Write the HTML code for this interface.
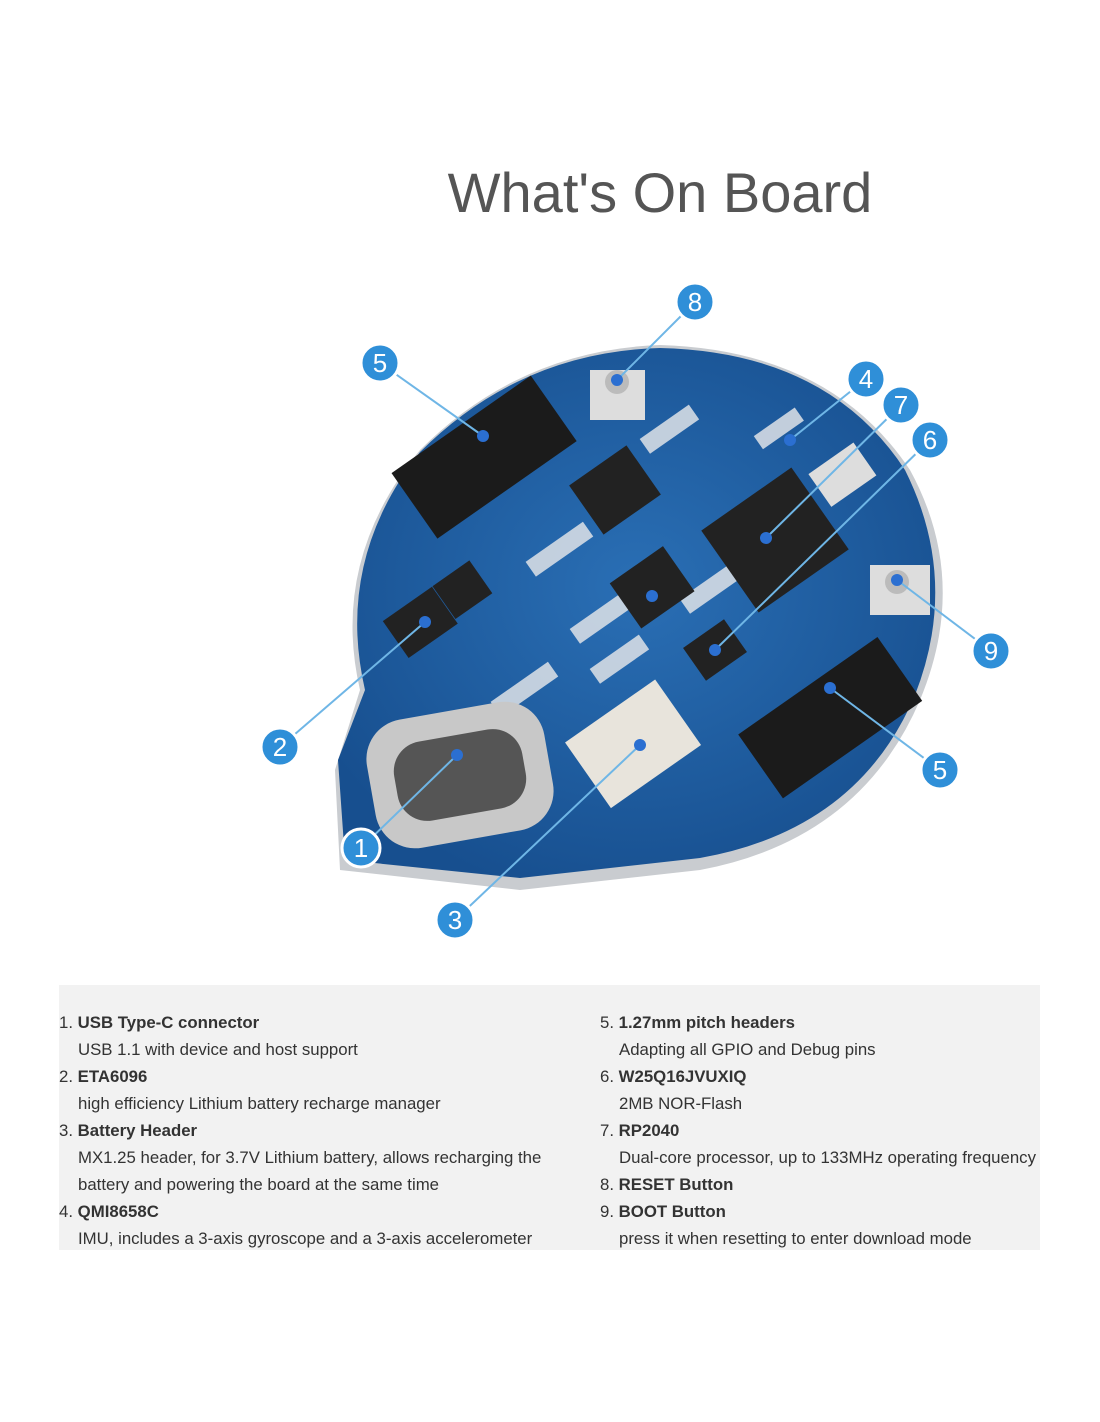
<!DOCTYPE html>
<html><head><meta charset="utf-8"><style>
body{margin:0;width:1100px;height:1422px;background:#fff;font-family:"Liberation Sans",sans-serif;position:relative;overflow:hidden}
h1{position:absolute;left:0;width:1320px;text-align:center;top:160px;margin:0;font-weight:normal;font-size:56px;color:#555}
.panel{position:absolute;left:59px;top:985px;width:981px;height:265px;background:#f2f2f2}
.col{position:absolute;top:1009px;font-size:16.8px;line-height:27px;color:#333}
.col div{white-space:nowrap}
.i{padding-left:19px}
</style></head><body>
<h1>What's On Board</h1>
<svg width="1100" height="1000" style="position:absolute;left:0;top:0">
<defs><radialGradient id="g" cx="50%" cy="45%" r="60%"><stop offset="0" stop-color="#2a6fb5"/><stop offset="1" stop-color="#174f8f"/></radialGradient></defs>
<path d="M335,770 L360,690 Q330,560 420,450 Q520,350 660,345 Q830,350 910,470 Q970,580 920,700 Q860,840 700,870 L520,890 L340,870 Z" fill="#c9ccd0"/>
<path d="M338,760 L365,690 Q335,560 420,452 Q520,352 660,348 Q828,352 905,470 Q960,580 915,695 Q858,830 700,858 L520,878 L345,860 Z" fill="url(#g)"/>
<g fill="#dfe3e8" opacity="0.85">
<rect x="640" y="420" width="60" height="18" transform="rotate(-35 670 430)"/>
<rect x="525" y="540" width="70" height="18" transform="rotate(-35 560 550)"/>
<rect x="570" y="610" width="60" height="18" transform="rotate(-35 600 620)"/>
<rect x="490" y="680" width="70" height="18" transform="rotate(-35 525 690)"/>
<rect x="680" y="580" width="60" height="18" transform="rotate(-35 710 590)"/>
<rect x="590" y="650" width="60" height="18" transform="rotate(-35 620 660)"/>
<rect x="755" y="420" width="50" height="16" transform="rotate(-35 780 430)"/>
</g>
<g transform="rotate(-35 480 460)"><rect x="400" y="420" width="170" height="80" fill="#1b1b1b"/></g>
<g transform="rotate(-35 828 718)"><rect x="745" y="680" width="170" height="78" fill="#1b1b1b"/></g>
<g transform="rotate(-35 775 540)"><rect x="720" y="490" width="110" height="100" fill="#222"/></g>
<g transform="rotate(-35 615 490)"><rect x="580" y="460" width="70" height="60" fill="#222"/></g>
<rect x="620" y="560" width="65" height="55" fill="#222" transform="rotate(-35 652 588)"/>
<rect x="690" y="630" width="50" height="40" fill="#222" transform="rotate(-35 715 650)"/>
<rect x="390" y="600" width="60" height="45" fill="#222" transform="rotate(-35 420 622)"/>
<rect x="440" y="570" width="45" height="40" fill="#222" transform="rotate(-35 462 590)"/>
<rect x="590" y="370" width="55" height="50" fill="#ddd"/><circle cx="617" cy="382" r="12" fill="#bbb"/>
<rect x="870" y="565" width="60" height="50" fill="#ddd"/><circle cx="897" cy="582" r="12" fill="#bbb"/>
<rect x="815" y="455" width="55" height="40" fill="#ddd" transform="rotate(-35 842 475)"/>
<rect x="580" y="700" width="110" height="80" fill="#e8e4dc" transform="rotate(-35 640 745)"/>
<rect x="370" y="710" width="180" height="130" rx="40" fill="#c8c8c8" transform="rotate(-10 460 775)"/>
<rect x="395" y="735" width="130" height="80" rx="30" fill="#555" transform="rotate(-10 460 775)"/>
<g stroke="#6fb6e6" stroke-width="2">
<line x1="695" y1="302" x2="617" y2="380"/><line x1="380" y1="363" x2="483" y2="436"/><line x1="866" y1="379" x2="790" y2="440"/><line x1="901" y1="405" x2="766" y2="538"/><line x1="930" y1="440" x2="715" y2="650"/><line x1="991" y1="651" x2="897" y2="580"/><line x1="940" y1="770" x2="830" y2="688"/><line x1="280" y1="747" x2="425" y2="622"/><line x1="361" y1="848" x2="457" y2="755"/><line x1="455" y1="920" x2="640" y2="745"/>
</g>
<g fill="#2b6fd1"><circle cx="617" cy="380" r="6"/><circle cx="483" cy="436" r="6"/><circle cx="790" cy="440" r="6"/><circle cx="766" cy="538" r="6"/><circle cx="715" cy="650" r="6"/><circle cx="652" cy="596" r="6"/><circle cx="897" cy="580" r="6"/><circle cx="830" cy="688" r="6"/><circle cx="425" cy="622" r="6"/><circle cx="457" cy="755" r="6"/><circle cx="640" cy="745" r="6"/></g>
<g font-family="Liberation Sans" font-size="26" fill="#fff" text-anchor="middle">
<g stroke="#fff" stroke-width="3" fill="#2f8fd8"><circle cx="695" cy="302" r="19"/><circle cx="380" cy="363" r="19"/><circle cx="866" cy="379" r="19"/><circle cx="901" cy="405" r="19"/><circle cx="930" cy="440" r="19"/><circle cx="991" cy="651" r="19"/><circle cx="940" cy="770" r="19"/><circle cx="280" cy="747" r="19"/><circle cx="361" cy="848" r="19"/><circle cx="455" cy="920" r="19"/></g>
<text x="695" y="311">8</text><text x="380" y="372">5</text><text x="866" y="388">4</text><text x="901" y="414">7</text><text x="930" y="449">6</text><text x="991" y="660">9</text><text x="940" y="779">5</text><text x="280" y="756">2</text><text x="361" y="857">1</text><text x="455" y="929">3</text>
</g>
</svg>
<div class="panel"></div>
<div class="col" style="left:59px">
<div>1. <b>USB Type-C connector</b></div><div class="i">USB 1.1 with device and host support</div>
<div>2. <b>ETA6096</b></div><div class="i">high efficiency Lithium battery recharge manager</div>
<div>3. <b>Battery Header</b></div><div class="i">MX1.25 header, for 3.7V Lithium battery, allows recharging the</div><div class="i">battery and powering the board at the same time</div>
<div>4. <b>QMI8658C</b></div><div class="i">IMU, includes a 3-axis gyroscope and a 3-axis accelerometer</div>
</div>
<div class="col" style="left:600px">
<div>5. <b>1.27mm pitch headers</b></div><div class="i">Adapting all GPIO and Debug pins</div>
<div>6. <b>W25Q16JVUXIQ</b></div><div class="i">2MB NOR-Flash</div>
<div>7. <b>RP2040</b></div><div class="i">Dual-core processor, up to 133MHz operating frequency</div>
<div>8. <b>RESET Button</b></div>
<div>9. <b>BOOT Button</b></div><div class="i">press it when resetting to enter download mode</div>
</div>
</body></html>
